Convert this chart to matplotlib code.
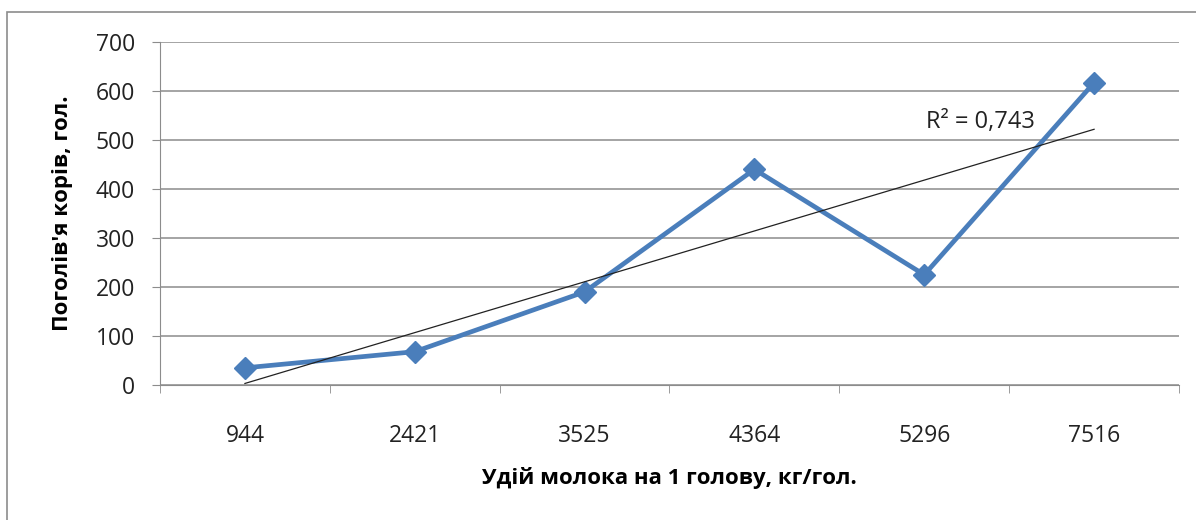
import numpy as np
import matplotlib
matplotlib.use('Agg')
import matplotlib.pyplot as plt
from matplotlib.patches import Rectangle

plt.rcParams['font.family'] = ['Open Sans', 'DejaVu Sans']

# дані
categories = ['944', '2421', '3525', '4364', '5296', '7516']
values = [35, 68, 190, 440, 225, 617]
y_ticks = [0, 100, 200, 300, 400, 500, 600, 700]

x = np.arange(len(categories))

# лінійний тренд
k, b = np.polyfit(x, values, 1)
trend = k * x + b
ss_res = np.sum((np.array(values) - trend) ** 2)
ss_tot = np.sum((np.array(values) - np.mean(values)) ** 2)
r2 = 1 - ss_res / ss_tot

fig = plt.figure(figsize=(11.96, 5.2), dpi=100)
ax = fig.add_axes([160 / 1196, 1 - 385 / 520, 1019 / 1196, 343 / 520])

# рамка діаграми
fig.patches.append(Rectangle((7 / 1196, -0.05), 1.2, 0.05 + 1 - 12 / 520,
                             transform=fig.transFigure, fill=False,
                             edgecolor='#8c8c8c', linewidth=1.2, clip_on=False))

ax.set_xlim(-0.5, len(categories) - 0.5)
ax.set_ylim(0, 700)
ax.set_yticks(y_ticks)
ax.set_yticklabels([str(t) for t in y_ticks], fontsize=16.5, color='#222222')

ax.set_xticks(x)
ax.set_xticklabels(categories, fontsize=16.5, color='#222222')
ax.set_xticks(np.arange(len(categories) + 1) - 0.5, minor=True)
ax.tick_params(axis='x', which='major', length=0, pad=28)
ax.tick_params(axis='x', which='minor', length=6, color='#8c8c8c', direction='out')
ax.tick_params(axis='y', length=6, color='#8c8c8c', direction='out', pad=12)

ax.grid(axis='y', color='#8c8c8c', linewidth=1.1)
ax.set_axisbelow(True)
for s in ['top', 'right']:
    ax.spines[s].set_visible(False)
ax.spines['left'].set_color('#8c8c8c')
ax.spines['bottom'].set_color('#8c8c8c')

ax.plot(x, values, color='#4a7ebb', linewidth=3.4, marker='D', markersize=11,
        zorder=3)
ax.plot(x, trend, color='#222222', linewidth=0.9, zorder=4)

ax.text(4.33, 537, 'R² = ' + ('%.3f' % r2).replace('.', ','), fontsize=17,
        ha='center', va='center', color='#222222')

ax.set_ylabel("Поголів'я корів, гол.", fontsize=16, fontweight='bold', labelpad=16)
ax.set_xlabel('Удій молока на 1 голову, кг/гол.', fontsize=16, fontweight='bold',
              labelpad=14)

fig.savefig('out.png', dpi=100)
